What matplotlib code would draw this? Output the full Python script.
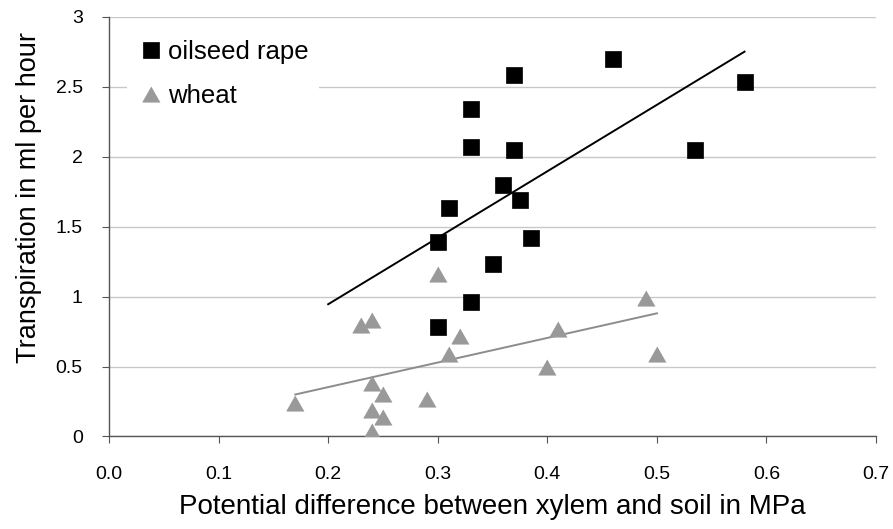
import matplotlib
matplotlib.use("Agg")
import matplotlib.pyplot as plt
from matplotlib.ticker import FormatStrFormatter, FuncFormatter

# Messwerte: Potentialdifferenz Xylem-Boden (MPa) und Transpiration (ml/h)
rape_x = [0.46, 0.37, 0.33, 0.33, 0.37, 0.36, 0.375, 0.31, 0.385, 0.30,
          0.35, 0.33, 0.30, 0.58, 0.535]
rape_y = [2.70, 2.58, 2.34, 2.07, 2.05, 1.80, 1.69, 1.63, 1.42, 1.39,
          1.23, 0.96, 0.78, 2.53, 2.05]

wheat_x = [0.17, 0.23, 0.24, 0.24, 0.25, 0.24, 0.25, 0.24, 0.29, 0.30,
           0.31, 0.32, 0.40, 0.41, 0.49, 0.50]
wheat_y = [0.24, 0.80, 0.83, 0.38, 0.30, 0.19, 0.14, 0.04, 0.27, 1.16,
           0.59, 0.72, 0.50, 0.77, 0.99, 0.59]

# Trendlinien (Anfangs- und Endpunkt)
rape_trend_x = [0.2, 0.58]
rape_trend_y = [0.945, 2.75]
wheat_trend_x = [0.17, 0.50]
wheat_trend_y = [0.30, 0.88]

x_ticks = [0.0, 0.1, 0.2, 0.3, 0.4, 0.5, 0.6, 0.7]
y_ticks = [0, 0.5, 1, 1.5, 2, 2.5, 3]

plt.rcParams['font.family'] = ['Liberation Sans', 'DejaVu Sans']

fig = plt.figure(figsize=(8.93, 5.29), dpi=100)
ax = fig.add_axes([0.1221, 0.1749, 0.8589, 0.7936])

grey = '#999999'
tri = [(0, 0.88), (-1, -0.88), (1, -0.88)]

ax.plot(rape_trend_x, rape_trend_y, color='black', lw=1.4, zorder=2)
ax.plot(wheat_trend_x, wheat_trend_y, color='#8c8c8c', lw=1.4, zorder=2)

ax.plot(rape_x, rape_y, ls='none', marker='s', ms=11, mfc='black',
        mec='black', mew=0.5, label='oilseed rape', zorder=3)
ax.plot(wheat_x, wheat_y, ls='none', marker=tri, ms=12.5, mfc=grey,
        mec=grey, mew=0.5, label='wheat', zorder=3)

ax.set_xlim(0, 0.7)
ax.set_ylim(0, 3)
ax.set_xticks(x_ticks)
ax.set_yticks(y_ticks)
ax.xaxis.set_major_formatter(FormatStrFormatter('%.1f'))
ax.yaxis.set_major_formatter(FuncFormatter(lambda v, p: f"{v:g}"))

ax.grid(axis='y', color='#c8c8c8', lw=1)
ax.set_axisbelow(True)
for s in ['top', 'right']:
    ax.spines[s].set_visible(False)
for s in ['left', 'bottom']:
    ax.spines[s].set_color('#555555')
    ax.spines[s].set_linewidth(1)

ax.tick_params(axis='x', direction='out', length=5, pad=16, labelsize=14,
               color='#555555')
ax.tick_params(axis='y', direction='out', length=5, pad=14, labelsize=14,
               color='#555555')

ax.set_xlabel("Potential difference between xylem and soil in MPa",
              fontsize=20, labelpad=8)
ax.set_ylabel("Transpiration in ml per hour", fontsize=19.5)
ax.yaxis.set_label_coords(-0.087, 0.57)

leg = ax.legend(loc='upper left', bbox_to_anchor=(0.023, 0.97),
                borderaxespad=0, fontsize=18.5, handlelength=1.1,
                handletextpad=0.1, labelspacing=0.8, borderpad=0.4,
                frameon=True, fancybox=False, framealpha=1)
leg.get_frame().set_edgecolor('none')
leg.get_frame().set_facecolor('white')

fig.savefig("out.png", dpi=100)
